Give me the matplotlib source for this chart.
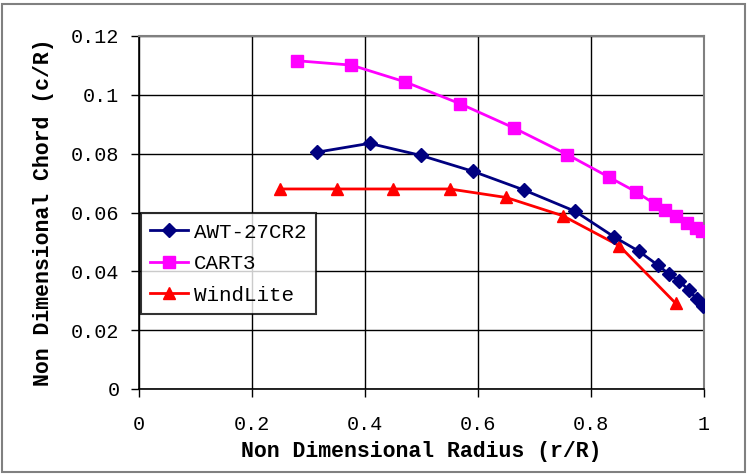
import matplotlib
matplotlib.use("Agg")
import matplotlib.pyplot as plt
from matplotlib.patches import Rectangle
from matplotlib.ticker import FuncFormatter, MultipleLocator

# Data
awt_x = [0.315, 0.408, 0.499, 0.591, 0.682, 0.772, 0.841, 0.885, 0.919, 0.938, 0.956, 0.974, 0.987, 0.998]
awt_y = [0.0805, 0.0835, 0.0794, 0.0740, 0.0676, 0.0604, 0.0517, 0.0468, 0.0420, 0.0391, 0.0367, 0.0335, 0.0306, 0.0283]

cart_x = [0.279, 0.376, 0.471, 0.568, 0.663, 0.758, 0.832, 0.880, 0.913, 0.931, 0.951, 0.970, 0.985, 0.997]
cart_y = [0.1116, 0.1101, 0.1044, 0.0970, 0.0888, 0.0797, 0.0720, 0.0670, 0.0629, 0.0609, 0.0587, 0.0563, 0.0546, 0.0537]

wind_x = [0.25, 0.35, 0.45, 0.55, 0.65, 0.75, 0.85, 0.95]
wind_y = [0.0680, 0.0680, 0.0680, 0.0680, 0.0651, 0.0589, 0.0487, 0.0291]

series_names = ["AWT-27CR2", "CART3", "WindLite"]
x_label = "Non Dimensional Radius (r/R)"
y_label = "Non Dimensional Chord (c/R)"

FONT = "Liberation Mono"

fig = plt.figure(figsize=(7.47, 4.75), dpi=100)
ax = fig.add_axes([139/747, 1-389/475, (704-139)/747, (389-36)/475])

ax.plot(awt_x, awt_y, color="#000080", lw=2, marker="D", ms=7.5, label=series_names[0], zorder=4)
ax.plot(cart_x, cart_y, color="#FF00FF", lw=2, marker="s", ms=8, label=series_names[1], zorder=3)
ax.plot(wind_x, wind_y, color="#FF0000", lw=2, marker="^", ms=9, label=series_names[2], zorder=3)

ax.set_xlim(0, 1)
ax.set_ylim(0, 0.12)
ax.xaxis.set_major_locator(MultipleLocator(0.2))
ax.yaxis.set_major_locator(MultipleLocator(0.02))
fmt = FuncFormatter(lambda v, p: f"{round(v, 4):g}")
ax.xaxis.set_major_formatter(fmt)
ax.yaxis.set_major_formatter(fmt)

ax.grid(True, color="black", lw=1.0, zorder=1)
ax.set_axisbelow(True)
for s in ["left", "bottom"]:
    ax.spines[s].set_color("black")
    ax.spines[s].set_linewidth(1.2)
for s in ["top", "right"]:
    ax.spines[s].set_color("#808080")
    ax.spines[s].set_linewidth(1.5)

ax.tick_params(axis="both", direction="out", length=6, width=1.0, color="black",
               labelsize=14.5, labelcolor="black")
ax.tick_params(axis="y", pad=8)
ax.tick_params(axis="x", pad=13)
for lab in ax.get_xticklabels() + ax.get_yticklabels():
    lab.set_family(FONT)

ax.set_xlabel(x_label, family=FONT, fontsize=15.5, fontweight="bold", labelpad=5)
ax.set_ylabel(y_label, family=FONT, fontsize=15.5, fontweight="bold", labelpad=12)

leg = ax.legend(loc="lower left", bbox_to_anchor=(0.0035, 0.2125), frameon=True,
                fancybox=False, shadow=False, borderaxespad=0, borderpad=0.45,
                handlelength=1.8, handletextpad=0.3, labelspacing=0.6,
                prop={"family": FONT, "size": 15})
leg.get_frame().set_edgecolor("black")
leg.get_frame().set_linewidth(1.5)
leg.set_zorder(5)

fig.patches.append(Rectangle((2/747, 3/475), 743/747, 468/475, transform=fig.transFigure,
                             fill=False, edgecolor="#808080", lw=1.5))

fig.savefig("out.png", dpi=100)
